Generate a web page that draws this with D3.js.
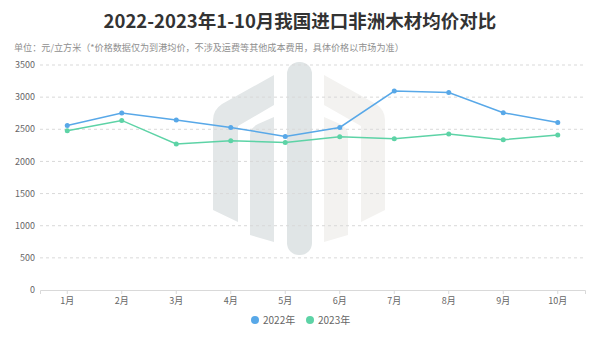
<!DOCTYPE html>
<html>
<head>
<meta charset="utf-8">
<script src="https://cdn.jsdelivr.net/npm/d3@7"></script>
<style>
  html, body { margin: 0; padding: 0; background: #fff; }
  svg { display: block; font-family: "Noto Sans CJK SC", "Noto Sans", sans-serif; }
</style>
</head>
<body>
<svg id="chart" width="600" height="345"></svg>
<script>
// Monthly average import price of African timber (yuan per cubic metre)
const months = ["1月", "2月", "3月", "4月", "5月", "6月", "7月", "8月", "9月", "10月"];
const price2022 = [2560, 2753, 2644, 2529, 2389, 2529, 3095, 3073, 2757, 2607];
const price2023 = [2477, 2638, 2271, 2322, 2296, 2384, 2353, 2426, 2337, 2410];
const yTicks = [0, 500, 1000, 1500, 2000, 2500, 3000, 3500];
const seriesNames = ["2022年", "2023年"];
const seriesColors = ["#58a8e8", "#5dd3a6"];

const svg = d3.select("#chart");
const W = 600, H = 345;
const margin = { left: 40, right: 15, top: 65, bottom: 55 };

const x = d3.scaleBand().domain(months).range([margin.left, W - margin.right]);
const y = d3.scaleLinear().domain([0, 3500]).range([H - margin.bottom, margin.top]);

// Title and unit note
svg.append("text")
  .attr("x", W / 2).attr("y", 28)
  .attr("text-anchor", "middle")
  .attr("font-size", 18.5).attr("font-weight", "bold")
  .attr("fill", "#333")
  .text("2022-2023年1-10月我国进口非洲木材均价对比");

svg.append("text")
  .attr("x", 14).attr("y", 51)
  .attr("font-size", 9.1)
  .attr("fill", "#8f8f8f")
  .text("单位：元/立方米（*价格数据仅为到港均价，不涉及运费等其他成本费用，具体价格以市场为准）");

// Background logo mark
const logo = svg.append("g");
logo.append("path")
  .attr("d", "M274,75 L274,105 L238,126 L238,222 L213,210 L213,120 Q213,110 222,104 Z")
  .attr("fill", "#e3e7e8");
logo.append("path")
  .attr("d", "M274,117 L274,242 L250,235 L250,135 Q250,128 258,124 Z")
  .attr("fill", "#e3e7e8");
logo.append("rect")
  .attr("x", 287).attr("y", 62).attr("width", 25).attr("height", 193)
  .attr("rx", 12).attr("fill", "#e0e5e6");
logo.append("path")
  .attr("d", "M324,75 L324,105 L361,126 L361,222 L385,210 L385,120 Q385,110 376,104 Z")
  .attr("fill", "#f3f2f0");
logo.append("path")
  .attr("d", "M324,117 L324,242 L348,235 L348,135 Q348,128 340,124 Z")
  .attr("fill", "#f3f2f0");

// Horizontal grid + y labels
const yAxis = svg.append("g");
yAxis.selectAll("line.grid")
  .data(yTicks.filter(d => d > 0))
  .join("line")
  .attr("class", "grid")
  .attr("x1", margin.left).attr("x2", W - margin.right)
  .attr("y1", d => y(d)).attr("y2", d => y(d))
  .attr("stroke", "#d9d9d9").attr("stroke-width", 1)
  .attr("stroke-dasharray", "3,3");
yAxis.selectAll("text")
  .data(yTicks)
  .join("text")
  .attr("x", margin.left - 5).attr("y", d => y(d))
  .attr("dy", "0.35em")
  .attr("text-anchor", "end")
  .attr("font-size", 9).attr("fill", "#666")
  .text(d => d);

// X axis
const xAxis = svg.append("g")
  .attr("transform", `translate(0,${y(0)})`)
  .call(d3.axisBottom(x).tickSize(4).tickPadding(4));
xAxis.select(".domain").attr("stroke", "#d9d9d9");
xAxis.selectAll(".tick line").attr("stroke", "#d9d9d9");
xAxis.selectAll(".tick text")
  .attr("font-size", 9).attr("fill", "#666")
  .attr("font-family", "\"Noto Sans CJK SC\", sans-serif");

// Lines and points
const cx = m => x(m) + x.bandwidth() / 2;
const line = d3.line().x((d, i) => cx(months[i])).y(d => y(d));
[price2022, price2023].forEach((vals, s) => {
  const g = svg.append("g");
  g.append("path")
    .datum(vals)
    .attr("d", line)
    .attr("fill", "none")
    .attr("stroke", seriesColors[s])
    .attr("stroke-width", 1.5);
  g.selectAll("circle")
    .data(vals)
    .join("circle")
    .attr("cx", (d, i) => cx(months[i]))
    .attr("cy", d => y(d))
    .attr("r", 2.5)
    .attr("fill", seriesColors[s]);
});

// Legend
const legendX = [255, 310];
const legend = svg.append("g");
seriesNames.forEach((name, i) => {
  legend.append("circle")
    .attr("cx", legendX[i]).attr("cy", 320).attr("r", 4)
    .attr("fill", seriesColors[i]);
  legend.append("text")
    .attr("x", legendX[i] + 8).attr("y", 320)
    .attr("dy", "0.35em")
    .attr("font-size", 10).attr("fill", "#666")
    .text(name);
});
</script>
</body>
</html>
